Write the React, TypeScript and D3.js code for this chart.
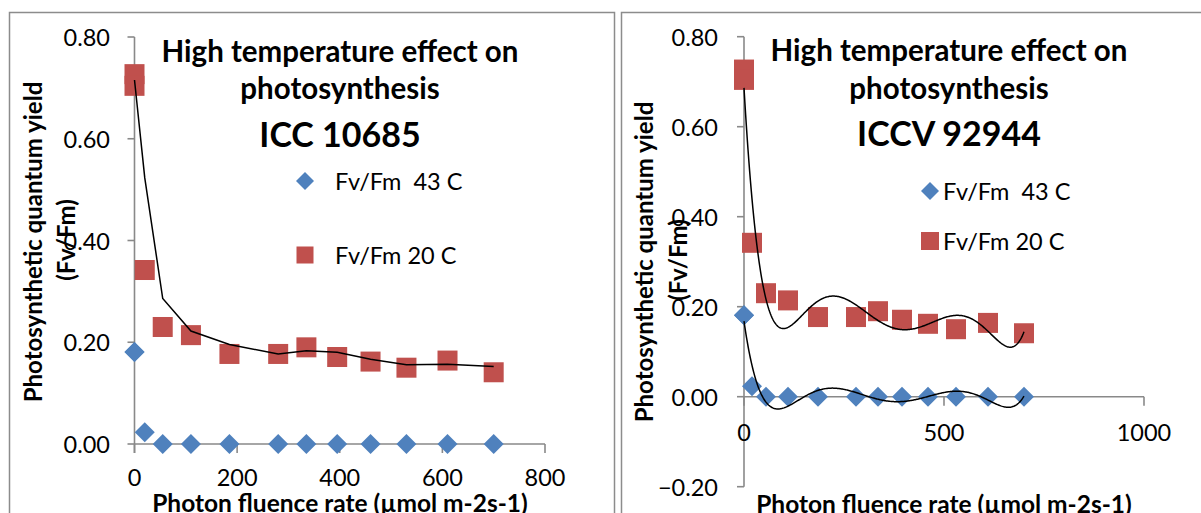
import React from 'react';
import * as d3 from 'd3';

// photon fluence rate (µmol m-2 s-1); first value is duplicated (two readings at 0)
const par = [0, 0, 20, 55, 110, 185, 280, 335, 395, 460, 530, 610, 700];
const fvfm43 = [0.181, 0.181, 0.023, 0, 0, 0, 0, 0, 0, 0, 0, 0, 0];
const fvfm20 = [0.727, 0.704, 0.342, 0.230, 0.214, 0.177, 0.177, 0.190, 0.171, 0.162, 0.150, 0.164, 0.141];

const leftYTicks = [0, 0.2, 0.4, 0.6, 0.8];
const leftXTicks = [0, 200, 400, 600, 800];
const rightYTicks = [-0.2, 0, 0.2, 0.4, 0.6, 0.8];
const rightXTicks = [0, 500, 1000];

const BLUE = '#4F81BD';
const RED = '#C0504D';
const AXIS = '#898989';
const FONT = 'Lato, "Open Sans", sans-serif';

type Pt = { x: number; y: number };

const points = (ys: number[]): Pt[] => par.map((x, i) => ({ x, y: ys[i] }));

// 2 period moving average, like the Excel trendline
function movingAverage(data: Pt[]): Pt[] {
  const out: Pt[] = [];
  for (let i = 1; i < data.length; i++) {
    out.push({ x: data[i].x, y: (data[i].y + data[i - 1].y) / 2 });
  }
  return out;
}

// least squares polynomial (order 6 trendline)
function polyFit(data: Pt[], deg: number) {
  const s = 700;
  const n = deg + 1;
  const A = Array.from({ length: n }, () => new Array(n + 1).fill(0));
  data.forEach((d) => {
    const t = d.x / s;
    for (let r = 0; r < n; r++) {
      for (let c = 0; c < n; c++) A[r][c] += Math.pow(t, r + c);
      A[r][n] += d.y * Math.pow(t, r);
    }
  });
  for (let i = 0; i < n; i++) {
    let p = i;
    for (let k = i + 1; k < n; k++) if (Math.abs(A[k][i]) > Math.abs(A[p][i])) p = k;
    [A[i], A[p]] = [A[p], A[i]];
    for (let k = i + 1; k < n; k++) {
      const f = A[k][i] / A[i][i];
      for (let c = i; c <= n; c++) A[k][c] -= f * A[i][c];
    }
  }
  const coef = new Array(n).fill(0);
  for (let i = n - 1; i >= 0; i--) {
    let v = A[i][n];
    for (let c = i + 1; c < n; c++) v -= A[i][c] * coef[c];
    coef[i] = v / A[i][i];
  }
  return (x: number) => coef.reduce((acc, c, i) => acc + c * Math.pow(x / s, i), 0);
}

function Diamond({ cx, cy, r, color }: { cx: number; cy: number; r: number; color: string }) {
  return <path d={`M${cx},${cy - r}L${cx + r},${cy}L${cx},${cy + r}L${cx - r},${cy}Z`} fill={color} />;
}

function Square({ cx, cy, s, color }: { cx: number; cy: number; s: number; color: string }) {
  return <rect x={cx - s / 2} y={cy - s / 2} width={s} height={s} fill={color} />;
}

type PanelProps = {
  title: string;
  x: d3.ScaleLinear<number, number>;
  y: d3.ScaleLinear<number, number>;
  xTicks: number[];
  yTicks: number[];
  xLabelY: number;
  yLabelX: number;
  titleX: number;
  titleBase: number[];
  yTitle: [number, number, number, number];
  xTitle: [number, number];
  legend: { x: number; tx: number; y1: number; y2: number; ls: number };
  trend: 'ma' | 'poly';
};

function Panel(p: PanelProps) {
  const { x, y } = p;
  const y0 = y(0);
  const blue = points(fvfm43);
  const red = points(fvfm20);
  const line = d3.line<Pt>().x((d) => x(d.x)).y((d) => y(d.y));

  let trends: string[] = [];
  if (p.trend === 'ma') {
    trends = [line(movingAverage(red)) || ''];
  } else {
    const xs = d3.range(0, 700.01, 2);
    const fr = polyFit(red, 6);
    const fb = polyFit(blue, 6);
    trends = [
      line(xs.map((v) => ({ x: v, y: fr(v) }))) || '',
      line(xs.map((v) => ({ x: v, y: fb(v) }))) || '',
    ];
  }
  const x0 = x(0);
  const yTop = y(p.yTicks[p.yTicks.length - 1]);
  const yBot = y(p.yTicks[0]);
  const xEnd = x(p.xTicks[p.xTicks.length - 1]);

  return (
    <g fontFamily={FONT}>
      {/* axes */}
      <line x1={x0} x2={x0} y1={yTop} y2={Math.max(yBot, y0 + 9)} stroke={AXIS} strokeWidth={1.6} />
      {p.yTicks.map((t) => (
        <line key={'yt' + t} x1={x0 - 7} x2={x0} y1={y(t)} y2={y(t)} stroke={AXIS} strokeWidth={1.6} />
      ))}
      <line x1={x0} x2={xEnd} y1={y0} y2={y0} stroke={AXIS} strokeWidth={1.6} />
      {p.xTicks.map((t) => (
        <line key={'xt' + t} x1={x(t)} x2={x(t)} y1={y0} y2={y0 + 9} stroke={AXIS} strokeWidth={1.6} />
      ))}
      {p.yTicks.map((t) => (
        <text key={'yl' + t} x={p.yLabelX} y={y(t)} textAnchor="end" dominantBaseline="central" fontSize={23.5}>
          {d3.format('.2f')(t)}
        </text>
      ))}
      {p.xTicks.map((t) => (
        <text key={'xl' + t} x={x(t)} y={p.xLabelY} textAnchor="middle" dominantBaseline="central" fontSize={23.5}>
          {t}
        </text>
      ))}

      {/* data */}
      {red.map((d, i) => (
        <Square key={'r' + i} cx={x(d.x)} cy={y(d.y)} s={20} color={RED} />
      ))}
      {blue.map((d, i) => (
        <Diamond key={'b' + i} cx={x(d.x)} cy={y(d.y)} r={10} color={BLUE} />
      ))}
      {trends.map((d, i) => (
        <path key={'t' + i} d={d} fill="none" stroke="#000" strokeWidth={1.5} />
      ))}

      {/* axis titles */}
      <text
        transform={`translate(${p.yTitle[0]},${p.yTitle[1]}) rotate(-90)`}
        textAnchor="middle"
        dominantBaseline="central"
        fontWeight="bold"
        fontSize={24}
      >
        Photosynthetic quantum yield
      </text>
      <text
        transform={`translate(${p.yTitle[2]},${p.yTitle[3]}) rotate(-90)`}
        textAnchor="middle"
        dominantBaseline="central"
        fontWeight="bold"
        fontSize={24}
      >
        (Fv/Fm)
      </text>
      <text x={p.xTitle[0]} y={p.xTitle[1]} textAnchor="middle" dominantBaseline="central" fontWeight="bold" fontSize={24.5}>
        Photon fluence rate (µmol m-2s-1)
      </text>

      {/* chart title */}
      <text x={p.titleX} textAnchor="middle" fontWeight="bold">
        <tspan x={p.titleX} y={p.titleBase[0]} fontSize={29.5}>High temperature effect on</tspan>
        <tspan x={p.titleX} y={p.titleBase[1]} fontSize={29.5}>photosynthesis</tspan>
        <tspan x={p.titleX} y={p.titleBase[2]} fontSize={34}>{p.title}</tspan>
      </text>

      {/* legend */}
      <Diamond cx={p.legend.x} cy={p.legend.y1} r={9} color={BLUE} />
      <text x={p.legend.tx} y={p.legend.y1} dominantBaseline="central" fontSize={23.5} xmlSpace="preserve">
        Fv/Fm  43 C
      </text>
      <Square cx={p.legend.x} cy={p.legend.y2} s={p.legend.ls} color={RED} />
      <text x={p.legend.tx} y={p.legend.y2} dominantBaseline="central" fontSize={23.5}>
        Fv/Fm 20 C
      </text>
    </g>
  );
}

export default function App() {
  const xl = d3.scaleLinear().domain([0, 800]).range([134.5, 545]);
  const yl = d3.scaleLinear().domain([0, 0.8]).range([444, 37]);
  const xr = d3.scaleLinear().domain([0, 1000]).range([744, 1144]);
  const yr = d3.scaleLinear().domain([-0.2, 0.8]).range([486.7, 36.7]);

  return (
    <div style={{ position: 'absolute', left: 0, top: 0 }}>
      <svg width={1201} height={513} style={{ display: 'block', background: '#fff' }}>
        <rect x={9.5} y={12.5} width={605} height={560} fill="none" stroke="#8c8c8c" strokeWidth={1.5} />
        <rect x={621.5} y={12.5} width={600} height={560} fill="none" stroke="#8c8c8c" strokeWidth={1.5} />
        <Panel
          title="ICC 10685"
          x={xl}
          y={yl}
          xTicks={leftXTicks}
          yTicks={leftYTicks}
          xLabelY={477}
          yLabelX={110}
          titleX={340}
          titleBase={[62, 99, 147]}
          yTitle={[32, 242, 65, 240]}
          xTitle={[340, 502]}
          legend={{ x: 305, tx: 335, y1: 181, y2: 255, ls: 17 }}
          trend="ma"
        />
        <Panel
          title="ICCV 92944"
          x={xr}
          y={yr}
          xTicks={rightXTicks}
          yTicks={rightYTicks}
          xLabelY={432}
          yLabelX={718}
          titleX={949}
          titleBase={[61, 99, 146]}
          yTitle={[643, 262, 677, 260]}
          xTitle={[944, 503]}
          legend={{ x: 930, tx: 943, y1: 191, y2: 241, ls: 18 }}
          trend="poly"
        />
      </svg>
    </div>
  );
}
